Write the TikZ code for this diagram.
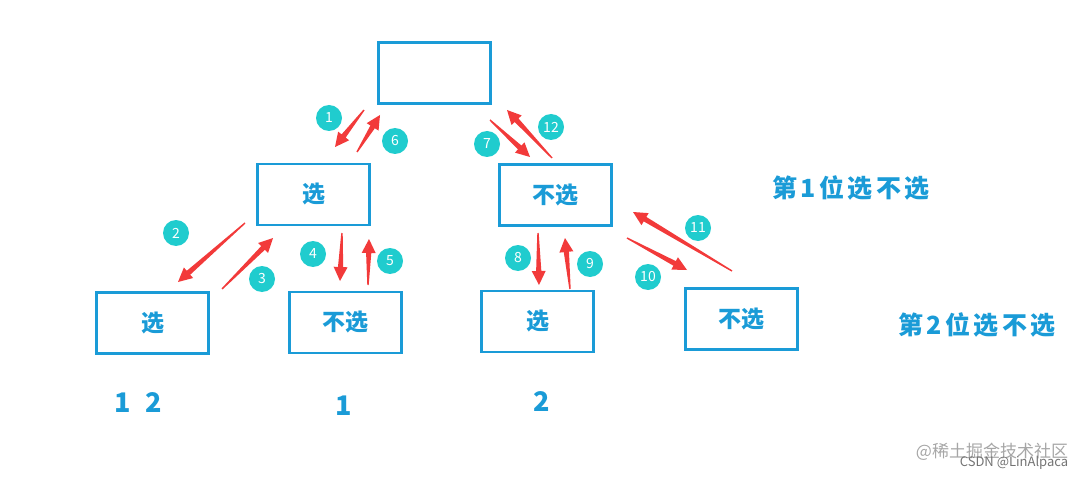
\documentclass[tikz,border=0pt]{standalone}
\usepackage{fontspec}
\newfontfamily\cjk{Noto Sans CJK SC}
\newfontfamily\cjkwide[LetterSpace=14]{Noto Sans CJK SC}
\usetikzlibrary{calc,positioning}

\definecolor{boxblue}{RGB}{26,155,215}
\definecolor{stepcyan}{RGB}{32,204,206}
\definecolor{arrowred}{RGB}{242,58,58}

% tapered red arrow from #1 to #2
\newcommand{\flowarrow}[2]{%
  \coordinate (nk) at ($(#2)!14pt!(#1)$);
  \fill[arrowred] ($(#1)!0.7pt!90:(#2)$) -- ($(nk)!2.6pt!90:(#2)$) -- ($(nk)!7pt!90:(#2)$) -- (#2)
    -- ($(nk)!7pt!-90:(#2)$) -- ($(nk)!2.6pt!-90:(#2)$) -- ($(#1)!0.7pt!-90:(#2)$) -- cycle;}

\begin{document}
\begin{tikzpicture}[x=1pt, y=-1pt,
  choice/.style={draw=boxblue, line width=2.6pt, minimum width=112pt, minimum height=61pt, inner sep=0pt, text=boxblue, font=\cjk\bfseries\fontsize{23}{23}\selectfont},
  order/.style={circle, fill=stepcyan, minimum size=26pt, inner sep=0pt, text=white, font=\cjk\fontsize{14}{14}\selectfont},
  level/.style={text=boxblue, inner sep=0pt, font=\cjkwide\bfseries\fontsize{25}{25}\selectfont},
  picked/.style={text=boxblue, inner sep=0pt, font=\cjk\bfseries\fontsize{27}{27}\selectfont}]
  \useasboundingbox (0,0) rectangle (1089,481);

  % tree of choices
  \node[choice] (root) at (434.5,73) {};
  \node[choice] (yes) at (313.5,194.5) {选};
  \node[choice] (no) at (555.5,195) {不选};
  \node[choice] (yesyes) at (152.5,323) {选};
  \node[choice] (yesno) at (345.5,322.5) {不选};
  \node[choice] (noyes) at (537.5,321.5) {选};
  \node[choice] (nono) at (741.5,319) {不选};

  % level labels
  \node[level] (lvl1) at (851,188) {第1位选不选};
  \node[level] (lvl2) at (977,325) {第2位选不选};

  % picked subsets
  \node[picked] (set12) at (138,403) {1\hspace{0.55em}2};
  \node[picked] (set1) at (344,406) {1};
  \node[picked] (set2) at (542,402) {2};

  % arrow ends
  \coordinate (a1s) at (364,110);  \coordinate (a1e) at (335,147);
  \coordinate (a6s) at (357,152);  \coordinate (a6e) at (380,115);
  \coordinate (a7s) at (490,120);  \coordinate (a7e) at (530,157);
  \coordinate (a12s) at (552,158); \coordinate (a12e) at (507,110);
  \coordinate (a2s) at (245,223);  \coordinate (a2e) at (178,282);
  \coordinate (a3s) at (222,289);  \coordinate (a3e) at (273,238);
  \coordinate (a4s) at (342,233);  \coordinate (a4e) at (340,281);
  \coordinate (a5s) at (368,285);  \coordinate (a5e) at (369,239);
  \coordinate (a8s) at (538,233);  \coordinate (a8e) at (539,285);
  \coordinate (a9s) at (570,289);  \coordinate (a9e) at (565,238);
  \coordinate (a10s) at (627,238); \coordinate (a10e) at (687,270);
  \coordinate (a11s) at (732,271); \coordinate (a11e) at (633,212);

  \flowarrow{a1s}{a1e}
  \flowarrow{a6s}{a6e}
  \flowarrow{a7s}{a7e}
  \flowarrow{a12s}{a12e}
  \flowarrow{a2s}{a2e}
  \flowarrow{a3s}{a3e}
  \flowarrow{a4s}{a4e}
  \flowarrow{a5s}{a5e}
  \flowarrow{a8s}{a8e}
  \flowarrow{a9s}{a9e}
  \flowarrow{a10s}{a10e}
  \flowarrow{a11s}{a11e}

  % step numbers
  \node[order] (s1) at (329,118) {1};
  \node[order] (s6) at (395,141) {6};
  \node[order] (s7) at (487,144) {7};
  \node[order] (s12) at (551,127) {12};
  \node[order] (s2) at (176,233) {2};
  \node[order] (s3) at (262,279) {3};
  \node[order] (s4) at (313,254) {4};
  \node[order] (s5) at (390,261) {5};
  \node[order] (s8) at (518,258) {8};
  \node[order] (s9) at (590,264) {9};
  \node[order] (s10) at (648,277) {10};
  \node[order] (s11) at (698,228) {11};

  % watermark
  \node[text=black!35, font=\cjk\fontsize{17}{17}\selectfont, inner sep=0pt] (wm1) at (992,452) {@稀土掘金技术社区};
  \node[text=black!55, font=\cjk\fontsize{13}{13}\selectfont, inner sep=0pt] (wm2) at (1014,463) {CSDN @LinAlpaca};
\end{tikzpicture}
\end{document}
